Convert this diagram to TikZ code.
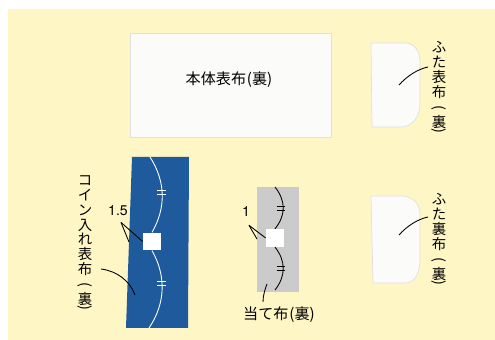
\documentclass[tikz,border=0pt]{standalone}
\usepackage{fontspec}
\newfontfamily\jp{Noto Sans CJK JP}
\newfontfamily\num{TeX Gyre Heros}
\definecolor{paper}{RGB}{255,246,198}
\definecolor{denim}{RGB}{31,91,156}
\definecolor{lining}{RGB}{203,203,203}
\definecolor{cloth}{RGB}{251,251,249}
\newcommand\tateL{\rotatebox[origin=c]{-90}{(}}
\newcommand\tateR{\rotatebox[origin=c]{-90}{)}}
\begin{document}
\begin{tikzpicture}[x = 0.02cm, y = -0.02cm,
        label/.style = {font = \jp\fontsize{8.6}{9}\selectfont, inner sep = 0pt},
        tate/.style = {font = \jp\fontsize{8.2}{8.5}\selectfont, inner sep = 0pt, align = center, anchor = north},
        size/.style = {font = \num\fontsize{8}{9}\selectfont, inner sep = 0pt},
        leader/.style = {line width = 0.5pt, black},
        seam/.style = {line width = 0.5pt},
        hole/.style = {fill = white, inner sep = 0pt, minimum width = 0.36cm, minimum height = 0.35cm}]
    \useasboundingbox (0,0) rectangle (495,340);
    \fill[paper] (8,9) rectangle (495,340);
    % body
    \draw[draw = black!12, fill = cloth] (130,33) rectangle (331,137);
    \node[label] (hontai) at (229,80) {本体表布\kern0.5pt(裏)};
    % flaps
    \draw[draw = black!12, fill = cloth] (371,43) -- (405,43) .. controls (415,43) and (420,52) .. (420,62)
        -- (420,104) .. controls (420,117) and (412,127) .. (401,127) -- (372,127) -- cycle;
    \draw[draw = black!12, fill = cloth] (371,196) -- (401,196) .. controls (413,196) and (420,204) .. (420,214)
        -- (420,260) .. controls (420,273) and (415,283) .. (405,283) -- (373,283) -- cycle;
    \node[tate] (futaomote) at (439,41) {ふ\\た\\表\\布\\\tateL\\裏\\[-4pt]\tateR};
    \node[tate] (futaura) at (439,193) {ふ\\た\\裏\\布\\\tateL\\裏\\[-4pt]\tateR};
    \coordinate (omoteTip) at (399,85);
    \coordinate (uraTip) at (399,235);
    \draw[leader] (omoteTip) .. controls (407,76) and (418,69) .. ([shift = {(-11,26)}]futaomote.north);
    \draw[leader] (uraTip) .. controls (407,226) and (418,219) .. ([shift = {(-11,24)}]futaura.north);
    % coin pocket
    \fill[denim] (132,157) -- (189,157) -- (188,328) -- (126,328) -- cycle;
    \node[hole] (holeA) at (152,241.5) {};
    \begin{scope}[white, seam]
        \draw (150,157) .. controls (166,182) and (166,208) .. (holeA.north);
        \draw (holeA.south) .. controls (166,275) and (166,303) .. (149,328);
        \foreach \y in {190,194,281,285} \draw (157,\y) -- (166,\y);
    \end{scope}
    \node[size] (gapA) at (118,211) {1.5};
    \coordinate (edgeA) at (129,242);
    \draw[leader] ([shift = {(3,6)}]gapA.south) -- (holeA.west);
    \draw[leader] ([shift = {(3,6)}]gapA.south) -- (edgeA);
    \node[tate] (coin) at (85,175) {コ\\イ\\ン\\入\\れ\\表\\布\\\tateL\\裏\\[-4pt]\tateR};
    \coordinate (coinTip) at (135,295);
    \draw[leader] ([shift = {(16,94)}]coin.north) .. controls (117,271) and (130,281) .. (coinTip);
    % patch
    \fill[lining] (257,187) rectangle (299,292);
    \node[hole] (holeB) at (275,238) {};
    \begin{scope}[black, seam]
        \draw (275,187) .. controls (286,201) and (286,215) .. (holeB.north);
        \draw (holeB.south) .. controls (286,261) and (286,276) .. (275,290);
        \foreach \y in {206,210,266,270} \draw (277,\y) -- (285,\y);
    \end{scope}
    \node[size] (gapB) at (246,212) {1};
    \coordinate (edgeB) at (257,239);
    \draw[leader] ([shift = {(3,8)}]gapB.south) -- (holeB.west);
    \draw[leader] ([shift = {(3,8)}]gapB.south) -- (edgeB);
    \node[label] (atete) at (279,315) {当て布\kern0.5pt(裏)};
    \coordinate (ateteTip) at (267,284);
    \draw[leader] ([shift = {(-16,-5)}]atete.north) .. controls (263,296) and (265,289) .. (ateteTip);
\end{tikzpicture}
\end{document}
